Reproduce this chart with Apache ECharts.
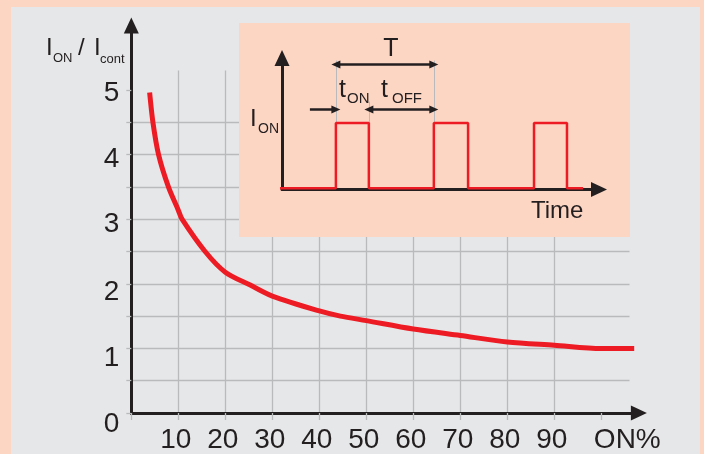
<!DOCTYPE html>
<html><head><meta charset="utf-8">
<script src="https://cdn.jsdelivr.net/npm/echarts@6/dist/echarts.min.js"></script>
<style>html,body{margin:0;padding:0;background:#fdd5c3;} #c{width:704px;height:454px;}</style>
</head><body><div id="c"></div>
<script>
// ---- main curve: I_ON / I_cont versus ON% ----
const dutyX  = [3.9, 4.6, 5.8, 7.9, 10, 10.8, 15.7, 20, 25.3, 30, 40, 44.5, 50, 60, 70, 80, 90, 100, 107];
const ratioY = [4.96, 4.5, 4.0, 3.5, 3.14, 3.0, 2.5, 2.18, 1.98, 1.81, 1.58, 1.5, 1.43, 1.30, 1.20, 1.10, 1.05, 1.0, 1.0];
// tick labels
const xTickValues = [10, 20, 30, 40, 50, 60, 70, 80, 90, 100];
const xTickLabels = ['10', '20', '30', '40', '50', '60', '70', '80', '90', 'ON%'];
const yTickValues = [0, 1, 2, 3, 4, 5];
const yTickLabels = ['0', '1', '2', '3', '4', '5'];
// ---- inset pulse diagram (time units arbitrary) ----
const pulseTimes  = [-0.38, 1.70, 2.74, 4.79, 5.87, 7.95, 8.99, 9.50];
const pulseLevels = [0, 1, 0, 1, 0, 1, 0, 0];
const periodSpan = [1.70, 4.79];
const onSpan     = [1.70, 2.74];
const offSpan    = [2.74, 4.79];

const FONT = "'Liberation Sans', Arial, Helvetica, sans-serif";
const INK = '#231f20';
const GRID = '#b9babc';
const RED = '#ed1c24';
const PEACH = '#fdd5c3';

const chart = echarts.init(document.getElementById('c'));

const yOff = {0: 11, 1: 9.5, 2: 8, 3: 5, 4: 4.5, 5: 3};
const yRich = {};
yTickValues.forEach(v => { yRich['l' + v] = {fontSize: 28, fontFamily: FONT, color: INK, padding: [2 * yOff[v], 0, 0, 0]}; });

const noAxis = {show: false};

chart.setOption({
  animation: false,
  backgroundColor: PEACH,
  grid: [
    {left: 131.3, right: 74.5, top: 70.6, bottom: 41},
    {left: 131.3, right: 65.1, top: 25.4, bottom: 41},
    {left: 282, right: 105, top: 58, bottom: 264.5}
  ],
  xAxis: [
    {gridIndex: 0, type: 'value', min: 0, max: 106, interval: 10,
     axisLine: noAxis, axisLabel: noAxis,
     axisTick: {show: true, length: 7, lineStyle: {color: GRID, width: 1.3}, customValues: [0,10,20,30,40,50,60,70,80,90,100]},
     splitLine: {show: true, showMinLine: true, showMaxLine: false, lineStyle: {color: GRID, width: 1.3}}},
    {gridIndex: 1, type: 'value', min: 0, max: 108, interval: 10,
     axisLine: {show: true, onZero: false, lineStyle: {color: INK, width: 3}, symbol: ['none', 'triangle'], symbolSize: [15, 16]},
     axisTick: noAxis, splitLine: noAxis,
     axisLabel: {show: true, interval: 0, margin: 13, color: INK, fontSize: 28, fontFamily: FONT,
       formatter: v => { const i = xTickValues.indexOf(v); if (i < 0) return ''; return v === 100 ? '{on|' + xTickLabels[i] + '}' : '{n|' + xTickLabels[i] + '}'; },
       rich: {n: {fontSize: 28, fontFamily: FONT, color: INK, padding: [0, 5, 0, 0]},
              on: {fontSize: 28, fontFamily: FONT, color: INK, padding: [0, 0, 0, 52]}}}},
    {gridIndex: 2, type: 'value', min: 0, max: 10, z: 10,
     axisLine: {show: true, onZero: false, lineStyle: {color: INK, width: 3}, symbol: ['none', 'triangle'], symbolSize: [15, 16]},
     axisTick: noAxis, splitLine: noAxis, axisLabel: noAxis}
  ],
  yAxis: [
    {gridIndex: 0, type: 'value', min: 0, max: 5.3, interval: 0.5,
     axisLine: noAxis, axisLabel: noAxis,
     axisTick: {show: true, length: 5, lineStyle: {color: GRID, width: 1.3}, customValues: [0,0.5,1,1.5,2,2.5,3,3.5,4,4.5,5]},
     splitLine: {show: true, showMinLine: true, showMaxLine: false, lineStyle: {color: GRID, width: 1.3}}},
    {gridIndex: 1, type: 'value', min: 0, max: 6, interval: 1,
     axisLine: {show: true, onZero: false, lineStyle: {color: INK, width: 3}, symbol: ['none', 'triangle'], symbolSize: [15, 16]},
     axisTick: noAxis, splitLine: noAxis,
     axisLabel: {show: true, interval: 0, margin: 12, color: INK, fontSize: 28, fontFamily: FONT,
       formatter: v => { const i = yTickValues.indexOf(v); return i < 0 ? '' : '{l' + v + '|' + yTickLabels[i] + '}'; },
       rich: yRich}},
    {gridIndex: 2, type: 'value', min: -0.02, max: 2, z: 10,
     axisLine: {show: true, onZero: false, lineStyle: {color: INK, width: 3}, symbol: ['none', 'triangle'], symbolSize: [15, 16]},
     axisTick: noAxis, splitLine: noAxis, axisLabel: noAxis}
  ],
  series: [
    {type: 'line', xAxisIndex: 1, yAxisIndex: 1, data: dutyX.map((x, i) => [x, ratioY[i]]),
     smooth: 0.3, showSymbol: false, z: 3,
     lineStyle: {color: RED, width: 5, join: 'round'}, itemStyle: {color: RED}},
    {type: 'line', xAxisIndex: 2, yAxisIndex: 2, data: pulseTimes.map((t, i) => [t, pulseLevels[i]]),
     step: 'end', showSymbol: false, clip: false, z: 12,
     lineStyle: {color: RED, width: 2.5}, itemStyle: {color: RED},
     markLine: {silent: true, z: 11, symbol: ['none', 'none'], label: {show: false},
       lineStyle: {type: 'solid', color: GRID, width: 1},
       data: [
         [{coord: [-0.32, 1]}, {coord: [9.43, 1]}],
         [{coord: [periodSpan[0], 1]}, {coord: [periodSpan[0], 1.96]}],
         [{coord: [onSpan[1], 1]}, {coord: [onSpan[1], 1.33]}],
         [{coord: [periodSpan[1], 1]}, {coord: [periodSpan[1], 1.96]}],
         [{coord: [periodSpan[0], 1.90], symbol: 'triangle', symbolSize: [8, 9], lineStyle: {color: INK, width: 2.5, type: 'solid'}},
          {coord: [periodSpan[1], 1.90], symbol: 'triangle', symbolSize: [8, 9]}],
         [{coord: [0.88, 1.21], symbol: 'none', lineStyle: {color: INK, width: 2.5, type: 'solid'}},
          {coord: [onSpan[0], 1.21], symbol: 'triangle', symbolSize: [8, 9]}],
         [{coord: [offSpan[0], 1.21], symbol: 'triangle', symbolSize: [8, 9], lineStyle: {color: INK, width: 2.5, type: 'solid'}},
          {coord: [offSpan[1], 1.21], symbol: 'triangle', symbolSize: [8, 9]}]
       ]}}
  ],
  graphic: [
    {type: 'rect', z: -10, silent: true, shape: {x: 11, y: 7, width: 689, height: 447}, style: {fill: '#e6e7e8'}},
    {type: 'rect', z: 1, silent: true, shape: {x: 239, y: 23, width: 391, height: 214}, style: {fill: PEACH}},
    // y-axis title  I_ON / I_cont
    {type: 'text', z: 20, style: {text: 'I', x: 46, y: 48, font: '24px ' + FONT, fill: INK, textVerticalAlign: 'middle'}},
    {type: 'text', z: 20, style: {text: 'ON', x: 53, y: 58, font: '13px ' + FONT, fill: INK, textVerticalAlign: 'middle'}},
    {type: 'text', z: 20, style: {text: '/', x: 78, y: 48, font: '24px ' + FONT, fill: INK, textVerticalAlign: 'middle'}},
    {type: 'text', z: 20, style: {text: 'I', x: 94, y: 48, font: '24px ' + FONT, fill: INK, textVerticalAlign: 'middle'}},
    {type: 'text', z: 20, style: {text: 'cont', x: 100, y: 59, font: '13px ' + FONT, fill: INK, textVerticalAlign: 'middle'}},
    // inset labels
    {type: 'text', z: 20, style: {text: 'T', x: 391, y: 49, font: '25px ' + FONT, fill: INK, textAlign: 'center', textVerticalAlign: 'middle'}},
    {type: 'text', z: 20, style: {text: 't', x: 339, y: 90, font: '25px ' + FONT, fill: INK, textVerticalAlign: 'middle'}},
    {type: 'text', z: 20, style: {text: 'ON', x: 347, y: 98.5, font: '15px ' + FONT, fill: INK, textVerticalAlign: 'middle'}},
    {type: 'text', z: 20, style: {text: 't', x: 381, y: 90, font: '25px ' + FONT, fill: INK, textVerticalAlign: 'middle'}},
    {type: 'text', z: 20, style: {text: 'OFF', x: 392, y: 98.5, font: '15px ' + FONT, fill: INK, textVerticalAlign: 'middle'}},
    {type: 'text', z: 20, style: {text: 'I', x: 250, y: 119, font: '24px ' + FONT, fill: INK, textVerticalAlign: 'middle'}},
    {type: 'text', z: 20, style: {text: 'ON', x: 258, y: 129.5, font: '14px ' + FONT, fill: INK, textVerticalAlign: 'middle'}},
    {type: 'text', z: 20, style: {text: 'Time', x: 531, y: 211, font: '24px ' + FONT, fill: INK, textVerticalAlign: 'middle'}}
  ]
});
</script>
</body></html>
